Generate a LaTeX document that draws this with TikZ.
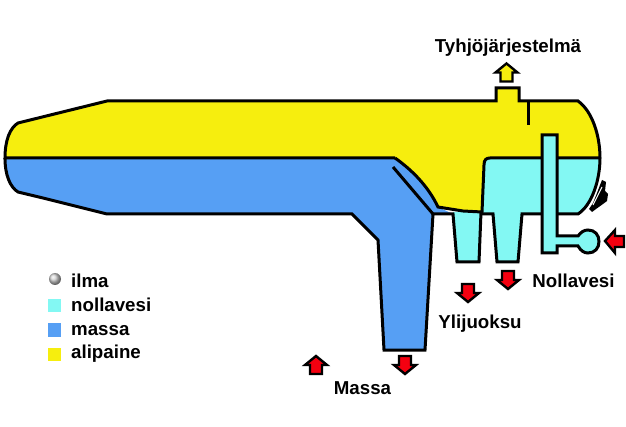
\documentclass[tikz,border=0pt]{standalone}
\usepackage{fontspec}
\setmainfont{Liberation Sans}
\definecolor{vac}{HTML}{F6EE0E}
\definecolor{pulp}{HTML}{569FF4}
\definecolor{water}{HTML}{83F8F3}
\definecolor{arrowred}{HTML}{F40010}
\tikzset{
  outline/.style={draw=black,line width=3pt,line join=miter},
  flowarrow/.style={draw=black,line width=2.4pt,line join=miter},
  lbl/.style={font=\fontsize{18.7}{20}\selectfont\bfseries,text=black,inner sep=0pt,anchor=base},
  legendtxt/.style={font=\fontsize{18.7}{20}\selectfont\bfseries,text=black,inner sep=0pt,anchor=base west},
  swatch/.style={inner sep=0pt,minimum width=13pt,minimum height=13pt},
  upshape/.pic={\path[pic actions] (0,-9)--(11,0)--(6,0)--(6,9)--(-6,9)--(-6,0)--(-11,0)--cycle;},
  downshape/.pic={\path[pic actions] (0,9)--(11,0)--(6,0)--(6,-9)--(-6,-9)--(-6,0)--(-11,0)--cycle;},
}
\begin{document}
\begin{tikzpicture}[x=1pt,y=-1pt]
\useasboundingbox (0,0) rectangle (626,427);
% pulp body
\path[fill=pulp] (5,158)--(395,158) .. controls (412,170) and (428,186) .. (438,207)--(453,214)--(433,214)--(425,350)--(384,350)--(378,240)--(352,214)--(107,214)--(43,198)--(18,192)
  .. controls (10,187) and (5,175) .. cycle;
% vacuum body
\path[fill=vac] (107,101)--(496,101)--(496,88)--(519,88)--(519,101)--(578,101)
  .. controls (592,111) and (600,135) .. (600,158)--(490,158)
  .. controls (486,158) and (484,160) .. (484,165)--(482,212)--(463,211)--(438,207)
  .. controls (428,186) and (412,170) .. (395,158)--(5,158)
  .. controls (5,140) and (10,128) .. (18,123)--cycle;
% water parts
\path[fill=water] (484,165) .. controls (484,160) and (486,158) .. (490,158)--(600,158)
  .. controls (600,180) and (592,205) .. (578,214)--(522,214)--(518,262)--(497,262)--(493,214)--(482,214)--cycle;
\path[fill=water] (453,212)--(481,212)--(479,262)--(457,262)--cycle;
% outlines
\draw[outline] (395,158)--(5,158)
  .. controls (5,140) and (10,128) .. (18,123)--(107,101)--(496,101)--(496,88)--(519,88)--(519,101)--(578,101)
  .. controls (592,111) and (600,135) .. (600,158)
  .. controls (600,180) and (592,205) .. (578,214)--(522,214)--(518,262)--(497,262)--(493,214)--(482,214);
\draw[outline] (600,158)--(490,158)
  .. controls (486,158) and (484,160) .. (484,165)--(482,212)--(463,211)--(438,207)
  .. controls (428,186) and (412,170) .. (395,158);
\draw[outline] (5,158) .. controls (5,175) and (10,187) .. (18,192)--(43,198)--(107,214)--(352,214)--(378,240)--(384,350)--(425,350)--(433,214)--(453,214)--(457,262)--(479,262)--(481,212);
\draw[outline] (393,167)--(433,214);
\draw[outline] (528,101)--(528,125);
% drain pipe with bulb
\path[fill=water,draw=black,line width=3pt] (542,135)--(557,135)--(557,236)--(578,236)
  .. controls (581,232) and (584,230) .. (588,230)
  .. controls (595,230) and (599,235) .. (599,241.5)
  .. controls (599,248) and (595,253) .. (588,253)
  .. controls (584,253) and (581,251) .. (578,246)
  --(557,246)--(557,253)--(542,253)--cycle;
% valve blob
\path[fill=black] (602,180)--(606,182)--(605,191)--(608,194)--(607,201)--(603,204)--(596,209)--(592,212)--(589,209)--(593,203)--(597,193)--(600,185)--cycle;
\draw[white,line width=1pt] (602,187)--(593,205);
% arrows
\pic[flowarrow,fill=vac] at (506.5,72.5) {upshape};
\pic[flowarrow,fill=arrowred] at (316,365) {upshape};
\pic[flowarrow,fill=arrowred] at (405,365) {downshape};
\pic[flowarrow,fill=arrowred] at (468,293) {downshape};
\pic[flowarrow,fill=arrowred] at (508,280) {downshape};
\path[flowarrow,fill=arrowred] (605,241)--(615,230)--(615,236)--(624,236)--(624,247)--(615,247)--(615,253)--cycle;
% labels
\node[lbl] (vacuumlabel) at (508,53) {Tyhjöjärjestelmä};
\node[lbl] (waterlabel) at (573.5,288) {Nollavesi};
\node[lbl] (overflowlabel) at (480,329) {Ylijuoksu};
\node[lbl] (pulplabel) at (362.5,394) {Massa};
% legend
\shade[ball color=gray!35!white] (55,279) circle[radius=6];
\node[swatch,fill=water] (sw1) at (54.5,306) {};
\node[swatch,fill=pulp] (sw2) at (54.5,330) {};
\node[swatch,fill=vac] (sw3) at (54.5,354) {};
\node[legendtxt] (leg0) at (71,288) {ilma};
\node[legendtxt] (leg1) at (71,312) {nollavesi};
\node[legendtxt] (leg2) at (71,336) {massa};
\node[legendtxt] (leg3) at (71,359) {alipaine};
\end{tikzpicture}
\end{document}
